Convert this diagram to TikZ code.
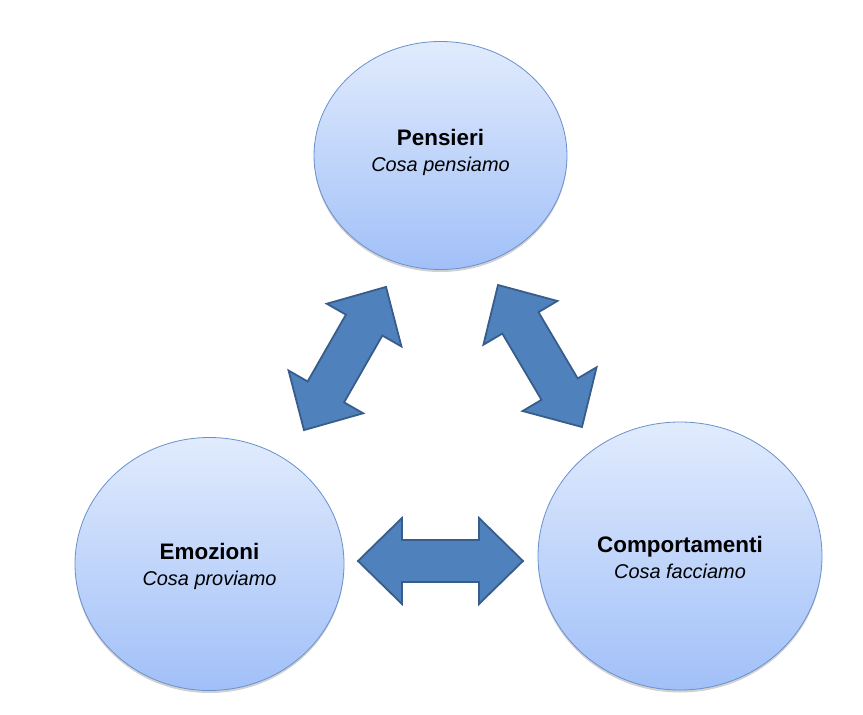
\documentclass[tikz,border=0pt]{standalone}
\usepackage{fontspec}
\setmainfont{Liberation Sans}
\usetikzlibrary{shapes.geometric,shadows}
\definecolor{circtop}{RGB}{225,235,253}
\definecolor{circbot}{RGB}{161,192,248}
\definecolor{circline}{RGB}{105,145,205}
\definecolor{arrfill}{RGB}{79,129,189}
\definecolor{arrline}{RGB}{56,93,138}
\tikzset{
  x=1bp, y=1bp,
  bubble/.style={ellipse, draw=circline, line width=0.8bp, inner sep=0pt,
    top color=circtop, bottom color=circbot,
    drop shadow={shadow xshift=0bp, shadow yshift=-2.5bp, opacity=0.18, fill=black}},
  lbl/.style={align=center, inner sep=0pt, text=black,
    font=\fontsize{20}{26}\selectfont},
  blockarrow/.style={fill=arrfill, draw=arrline, line width=1.8bp, line join=miter},
}
\newcommand{\ttl}[1]{{\fontsize{22.5}{26}\selectfont\bfseries #1}}
\newcommand{\sub}[1]{\textit{#1}}
\newcommand{\dblarrow}{(-82.5,0) -- (-38.5,43) -- (-38.5,21) -- (38.5,21) -- (38.5,43) -- (82.5,0) -- (38.5,-43) -- (38.5,-21) -- (-38.5,-21) -- (-38.5,-43) -- cycle}
\begin{document}
\begin{tikzpicture}
\path[use as bounding box, fill=white] (0,0) rectangle (863,-715);

\node[bubble, minimum width=253bp, minimum height=228bp] (pens) at (440.5,-155.5) {};
\node[bubble, minimum width=269bp, minimum height=253bp] (emoz) at (209.5,-564) {};
\node[bubble, minimum width=284bp, minimum height=268bp] (comp) at (680,-556) {};

\node[lbl] (penst) at ([yshift=3bp]pens.center) {\ttl{Pensieri}\\\sub{Cosa pensiamo}};
\node[lbl] (emozt) at ([yshift=-2bp]emoz.center) {\ttl{Emozioni}\\\sub{Cosa proviamo}};
\node[lbl] (compt) at ([yshift=-1.5bp]comp.center) {\ttl{Comportamenti}\\\sub{Cosa facciamo}};

\begin{scope}[shift={(345,-358.5)}, rotate=60.2]
  \draw[blockarrow] \dblarrow;
\end{scope}
\begin{scope}[shift={(540,-356)}, rotate=-59.4]
  \draw[blockarrow] \dblarrow;
\end{scope}
\begin{scope}[shift={(440.5,-561)}]
  \draw[blockarrow] \dblarrow;
\end{scope}
\end{tikzpicture}
\end{document}
